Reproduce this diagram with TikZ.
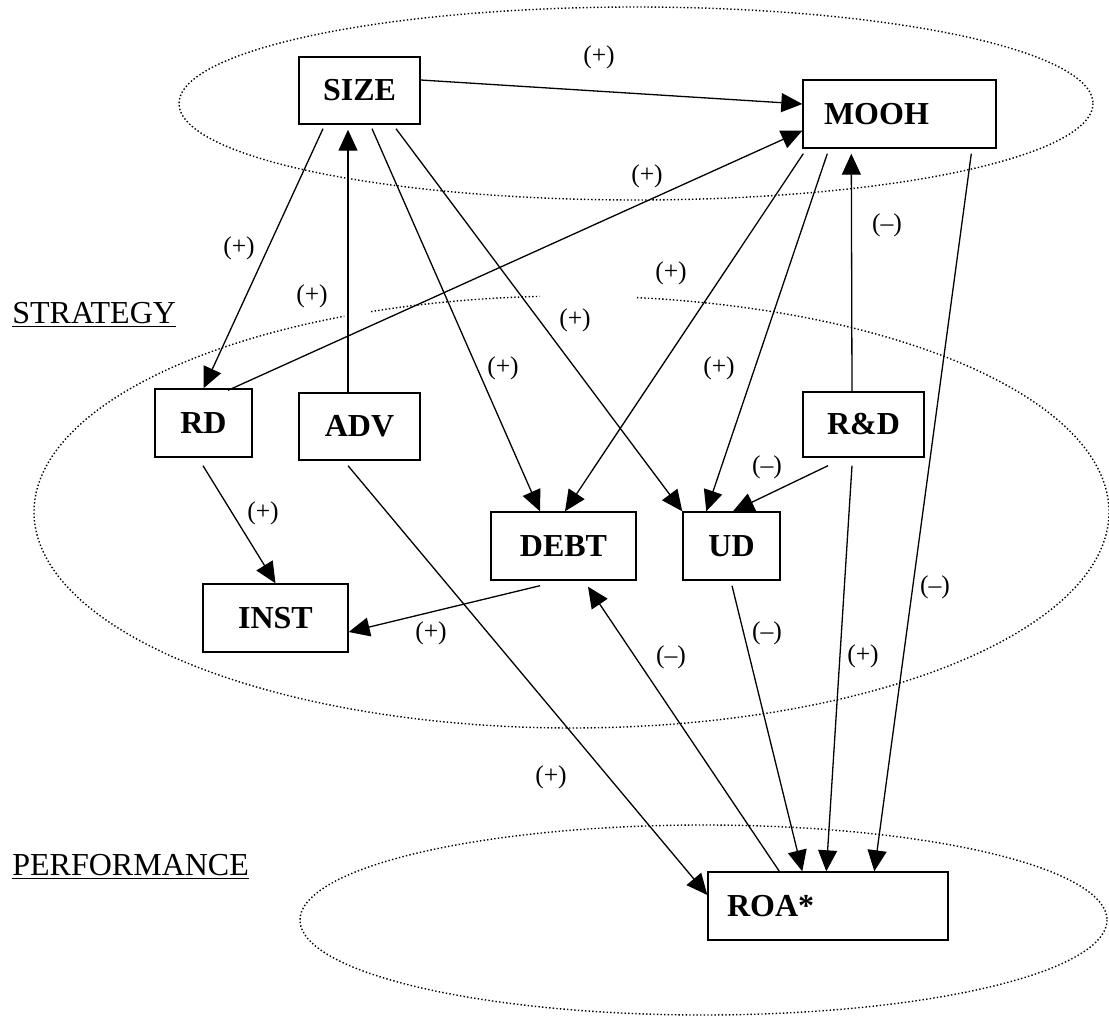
\documentclass[tikz,border=0pt]{standalone}
\usepackage{fontspec}
\setmainfont{Liberation Serif}
\usetikzlibrary{arrows.meta,calc}
\tikzset{
  box/.style={draw, line width=0.7pt, inner sep=0pt, anchor=center,
    font=\bfseries\fontsize{16}{19}\selectfont},
  conn/.style={line width=0.65pt, -{Triangle[length=10.5pt,width=9.5pt]}},
  sign/.style={inner sep=0pt, anchor=center, font=\fontsize{12.8}{15}\selectfont},
  zone/.style={line width=0.7pt, dash pattern=on 0.7pt off 1.1pt},
  title/.style={inner sep=0pt, anchor=base west, font=\fontsize{16}{19}\selectfont}
}
\begin{document}
\begin{tikzpicture}[x=0.5pt,y=-0.5pt]
\useasboundingbox (0,0) rectangle (1109,1017);
% zones
\draw[zone] plot[domain=0:360,samples=240,smooth] ({636+457*cos(\x)},{103.5+96.5*sin(\x)});
\draw[zone] plot[domain=277:605,samples=240,smooth] ({571.5+537.5*cos(\x)},{512+216*sin(\x)});
\draw[zone] plot[domain=248.1:266.6,samples=30,smooth] ({571.5+537.5*cos(\x)},{512+216*sin(\x)});
\draw[zone] plot[domain=0:360,samples=240,smooth] ({703.5+403.5*cos(\x)},{920+95*sin(\x)});
% titles
\node[title] (strat) at (12,323) {\underline{STRATEGY}};
\node[title] (perf) at (12,875) {\underline{PERFORMANCE}};
% boxes
\node[box, minimum width=60.5pt, minimum height=33.5pt] (SIZE) at (359.5,90.5) {SIZE};
\node[box, minimum width=96.5pt, minimum height=34pt, text width=75.5pt, align=left] (MOOH) at (899.5,114) {MOOH};
\node[box, minimum width=48.5pt, minimum height=34pt] (RD) at (203.5,423) {RD};
\node[box, minimum width=60.5pt, minimum height=33.5pt] (ADV) at (359.5,426.5) {ADV};
\node[box, minimum width=60.5pt, minimum height=32.5pt] (RnD) at (863.5,424.5) {R\&D};
\node[box, minimum width=48.5pt, minimum height=34pt] (UD) at (731.5,546) {UD};
\node[box, minimum width=72.5pt, minimum height=34pt] (DEBT) at (563.5,546) {DEBT};
\node[box, minimum width=72.5pt, minimum height=34pt] (INST) at (275.5,618) {INST};
\node[box, minimum width=120pt, minimum height=34pt, text width=101pt, align=left] (ROA) at (828,906) {ROA*};
% connectors
\draw[conn] ($(SIZE.east)+(0,-10.5)$) -- ($(MOOH.west)+(0,-10)$);
\draw[conn] ($(SIZE.south)+(-36.5,4)$) -- (RD.north);
\draw[conn] ($(ADV.north)+(-11.5,0)$) -- ($(SIZE.south)+(-11.5,5)$);
\draw[conn] ($(SIZE.south)+(12.5,4)$) -- ($(DEBT.north)+(-23.5,0)$);
\draw[conn] ($(SIZE.south)+(36.5,4)$) -- (UD.north west);
\draw[conn] ($(RD.north)+(24.5,2)$) -- ($(MOOH.south west)+(0,-18)$);
\draw[conn] ($(MOOH.south west)+(1,5)$) -- ($(DEBT.north)+(1.5,0)$);
\draw[conn] ($(MOOH.south west)+(25,5)$) -- ($(UD.north west)+(24,0)$);
\draw[conn] ($(RnD.north)+(-11.5,0)$) -- ($(MOOH.south west)+(49,5)$);
\draw[conn] ($(MOOH.south west)+(169,5)$) -- ($(ROA.north west)+(167,0)$);
\draw[conn] ($(RnD.south)+(-35.5,8)$) -- ($(UD.north)+(1.5,0)$);
\draw[conn] ($(RnD.south)+(-11.5,8)$) -- ($(ROA.north west)+(119,0)$);
\draw[conn] ($(UD.south)+(0.5,5)$) -- ($(ROA.north west)+(95,0)$);
\draw[conn] ($(ROA.north west)+(72,0)$) -- ($(DEBT.south)+(24.5,6)$);
\draw[conn] ($(DEBT.south)+(-23.5,5)$) -- ($(INST.east)+(0,14)$);
\draw[conn] ($(RD.south)+(-0.5,8)$) -- (INST.north);
\draw[conn] ($(ADV.south)+(-11.5,5)$) -- ($(ROA.west)+(0,-11)$);
% signs
\node[sign] (s1) at (599,57) {(+)};
\node[sign] (s2) at (647,176) {(+)};
\node[sign] (s3) at (239,248) {(+)};
\node[sign] (s4) at (312,296) {(+)};
\node[sign] (s5) at (671,273) {(+)};
\node[sign] (s6) at (575,320) {(+)};
\node[sign] (s7) at (503,368) {(+)};
\node[sign] (s8) at (719,368) {(+)};
\node[sign] (s9) at (887,225) {(–)};
\node[sign] (s10) at (767,467) {(–)};
\node[sign] (s11) at (263,513) {(+)};
\node[sign] (s12) at (431,633) {(+)};
\node[sign] (s13) at (935,587) {(–)};
\node[sign] (s14) at (767,633) {(–)};
\node[sign] (s15) at (671,657) {(–)};
\node[sign] (s16) at (863,656) {(+)};
\node[sign] (s17) at (551,777) {(+)};
\end{tikzpicture}
\end{document}
